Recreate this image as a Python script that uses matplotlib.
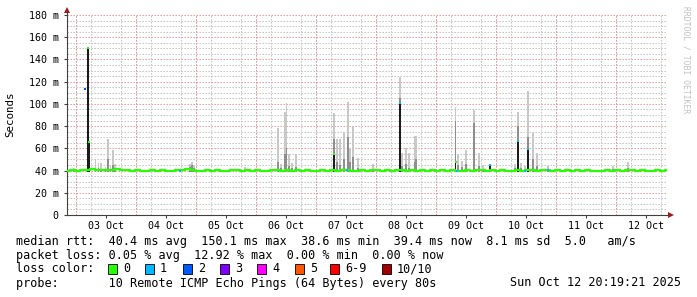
import numpy as np
import pandas as pd
import matplotlib
matplotlib.use("Agg")
import matplotlib.pyplot as plt
from matplotlib.patches import Rectangle
from matplotlib.ticker import MultipleLocator, FuncFormatter
import matplotlib.dates as mdates

plt.rcParams['font.family'] = ['DejaVu Sans Mono']

start = pd.Timestamp("2025-10-02 20:19:21")
end = pd.Timestamp("2025-10-12 20:19:21")

# median rtt (ms), one value every 2 hours
median_rtt = [
    39.9, 40.3, 39.7, 40.2, 40.8, 41.3, 40.6, 40.9, 40.4, 40.7, 41.0, 40.5,
    40.2, 39.8, 40.4, 39.6, 39.9, 40.3, 39.7, 40.5, 40.0, 39.6, 40.2, 40.4,
    41.2, 40.6, 39.8, 39.5, 40.1, 39.7, 40.3, 39.9, 39.6, 40.2, 40.5, 39.8,
    40.1, 39.7, 40.4, 40.0, 39.6, 40.3, 40.6, 39.9, 40.2, 39.8, 40.4, 39.9,
    40.3, 39.7, 40.0, 40.5, 39.6, 40.2, 39.8, 40.4, 40.1, 39.5, 40.0, 40.3,
    39.8, 40.2, 40.5, 39.9, 40.3, 39.6, 40.1, 40.6, 39.8, 40.2, 39.7, 40.3,
    40.0, 40.4, 39.7, 40.2, 39.9, 40.5, 40.0, 39.6, 40.3, 39.8, 40.1, 40.4,
    39.7, 40.2, 39.9, 40.4, 40.0, 39.6, 40.3, 39.8, 40.5, 40.1, 39.7, 40.2,
    40.4, 39.8, 40.1, 39.6, 40.3, 39.9, 40.2, 39.7, 40.4, 39.8, 40.0, 39.6,
    40.3, 39.9, 40.2, 39.7, 40.1, 40.5, 39.8, 40.2, 39.6, 40.0, 40.3, 39.9,
    40.1,
]

# smoke (spread of the pings): hours after start, top of smoke, top of darker core
smoke_hours = [2.8, 11.4, 12.6, 13.6, 15.4, 16.4, 17.4, 18.4, 19.2,
               49.2, 50.0, 50.8, 71.2,
               84.4, 85.6, 87.0, 87.8, 88.8, 90.0, 91.6,
               106.8, 107.9, 109.2, 110.8, 112.5, 113.2, 114.3, 116.3, 122.4,
               133.2, 134.0, 135.6, 136.8, 139.0, 139.6,
               155.4, 156.4, 157.9, 159.6, 162.9, 164.8, 166.4,
               179.2, 180.5, 181.6, 183.2, 184.4, 186.5, 188.1, 192.4,
               218.4, 224.5]
smoke_top = [42.5, 49.5, 47, 47, 43, 68, 44, 58.5, 46,
             46, 48, 45, 43,
             78.6, 46, 92.7, 100.5, 55, 47, 55,
             92, 68, 68, 75, 101.4, 60, 80, 51, 46,
             124, 56, 60.6, 56, 71, 71,
             97.5, 55, 49, 58.5, 94.5, 56, 45,
             46, 93, 47, 44, 111.6, 73.5, 56, 44,
             44, 48]
smoke_core = [40, 42, 42, 41, 41, 50, 41, 45, 42,
              43, 45, 42, 40,
              48, 42, 55, 60, 44, 42, 43,
              68, 48, 45, 50, 70, 48, 52, 42, 41,
              105, 44, 46, 42, 48, 50,
              85, 45, 43, 46, 83, 44, 41,
              42, 80, 42, 41, 70, 50, 44, 41,
              41, 42]

# dense smoke bars with the median on top
spike_hours = [7.2, 8.2, 8.8, 106.8, 133.2, 155.4, 169.2, 180.5, 184.4]
spike_rtt = [113, 150, 66, 55, 100.5, 48, 45, 67, 59.4]
spike_loss = [2, 0, 0, 0, 1, 0, 1, 1, 1]

# single lost pings on the normal level
loss_hours = [45.2, 112.0, 155.9, 183.2, 192.4]
loss_rtt = [40.0, 40.2, 39.8, 40.0, 40.1]
loss_count = [1, 1, 1, 1, 1]

loss_labels = ["0", "1", "2", "3", "4", "5", "6-9", "10/10"]
loss_colors = ["#26ff00", "#00b8ff", "#0059ff", "#7e00ff", "#ff00ff",
               "#ff5500", "#ff0000", "#a10000"]

fig = plt.figure(figsize=(6.97, 2.97), dpi=100)
ax = fig.add_axes([67 / 697, 82 / 297, 600 / 697, 200 / 297])

smoke_t = start + pd.to_timedelta(smoke_hours, unit="h")
spike_t = start + pd.to_timedelta(spike_hours, unit="h")
loss_t = start + pd.to_timedelta(loss_hours, unit="h")
median_t = pd.date_range(start, end, periods=len(median_rtt))

w = 0.8 / 24
base = 39
ax.bar(smoke_t, np.array(smoke_top) - base, bottom=base, width=w,
       color="#c8c8c8", linewidth=0, zorder=2)
ax.bar(smoke_t, np.array(smoke_core) - base, bottom=base, width=w,
       color="#8e8e8e", linewidth=0, zorder=2.1)
widths = [0.4 / 24 if i == 0 else w for i in range(len(spike_hours))]
ax.bar(spike_t, np.array(spike_rtt) - base, bottom=base, width=widths,
       color="#1c1c1c", linewidth=0, zorder=2.2)

ax.plot(median_t, median_rtt, color="#26ff00", lw=1.6,
        drawstyle="steps-mid", zorder=3)

for t, v, l in zip(spike_t, spike_rtt, spike_loss):
    ax.plot([t], [v], marker="s", ms=2.1, mew=0, color=loss_colors[l], zorder=4)
for t, v, l in zip(loss_t, loss_rtt, loss_count):
    ax.plot([t], [v], marker="s", ms=2.1, mew=0, color=loss_colors[l], zorder=4)

ax.set_xlim(start, end)
ax.set_ylim(0, 180)

# grid
ax.yaxis.set_major_locator(MultipleLocator(20))
ax.yaxis.set_minor_locator(MultipleLocator(5))
ax.yaxis.set_major_formatter(FuncFormatter(lambda v, p: "0" if v == 0 else "%d m" % v))
ax.xaxis.set_major_locator(mdates.HourLocator(byhour=[12]))
ax.xaxis.set_major_formatter(mdates.DateFormatter("%d %b"))
ax.xaxis.set_minor_locator(mdates.HourLocator(byhour=[0, 6, 12, 18]))
ax.set_axisbelow(True)
dots = (0, (1.4, 1.6))
gkw = dict(lw=0.72, ls=dots)
ax.xaxis.grid(True, which="minor", color="#c0c0c0", **gkw)
ax.yaxis.grid(True, which="minor", color="#c0c0c0", **gkw)
ax.yaxis.grid(True, which="major", color="#e89494", **gkw)
midnights = pd.date_range("2025-10-03", "2025-10-12", freq="D")
ax.vlines(midnights, 0, 180, colors="#e89494", lw=0.72, linestyles=dots, zorder=0.8)

for s in ["top", "right"]:
    ax.spines[s].set_visible(False)
for s in ["left", "bottom"]:
    ax.spines[s].set_color("#404040")
    ax.spines[s].set_linewidth(0.8)
ax.tick_params(axis="both", which="major", length=2, color="#404040",
               labelsize=7.2, labelcolor="black")
ax.tick_params(axis="y", which="major", pad=4)
ax.tick_params(axis="x", which="major", pad=2)
ax.tick_params(axis="both", which="minor", length=0)

# axis arrows
ax.plot([0, 0], [1, 1.02], color="#404040", lw=0.8, transform=ax.transAxes, clip_on=False)
ax.plot([1, 1.004], [0, 0], color="#404040", lw=0.8, transform=ax.transAxes, clip_on=False)
ax.plot([0], [1.027], marker="^", ms=4.5, mew=0, color="#9b1c1c",
        transform=ax.transAxes, clip_on=False)
ax.plot([1.007], [0], marker=">", ms=4.5, mew=0, color="#9b1c1c",
        transform=ax.transAxes, clip_on=False)

fig.text(10 / 697, 1 - 114 / 297, "Seconds", rotation=90, ha="center", va="center",
         fontsize=7.8)
fig.text(686 / 697, 1 - 60 / 297, "RRDTOOL / TOBI OETIKER", rotation=270,
         ha="center", va="center", fontsize=5.8, color="#c0c0c0")

lx = 16 / 697
fs = 8.5
fig.text(lx, 1 - 241 / 297,
         "median rtt:  40.4 ms avg  150.1 ms max  38.6 ms min  39.4 ms now  8.1 ms sd  5.0   am/s",
         va="center", fontsize=fs)
fig.text(lx, 1 - 255 / 297, "packet loss: 0.05 % avg  12.92 % max  0.00 % min  0.00 % now",
         va="center", fontsize=fs)
fig.text(lx, 1 - 269 / 297, "loss color:", va="center", fontsize=fs)
box_x = [108, 145, 183, 220, 257, 295, 330, 382]
for bx, lab, c in zip(box_x, loss_labels, loss_colors):
    fig.patches.append(Rectangle((bx / 697, 1 - 274 / 297), 9 / 697, 10 / 297,
                                 facecolor=c, edgecolor="black", lw=0.6,
                                 transform=fig.transFigure, figure=fig))
    fig.text((bx + 15) / 697, 1 - 269 / 297, lab, va="center", fontsize=fs)
fig.text(lx, 1 - 283 / 297,
         "probe:       10 Remote ICMP Echo Pings (64 Bytes) every 80s",
         va="center", fontsize=fs)
fig.text(681 / 697, 1 - 283 / 297, "Sun Oct 12 20:19:21 2025", ha="right",
         va="center", fontsize=fs)

plt.savefig("out.png", dpi=100)
